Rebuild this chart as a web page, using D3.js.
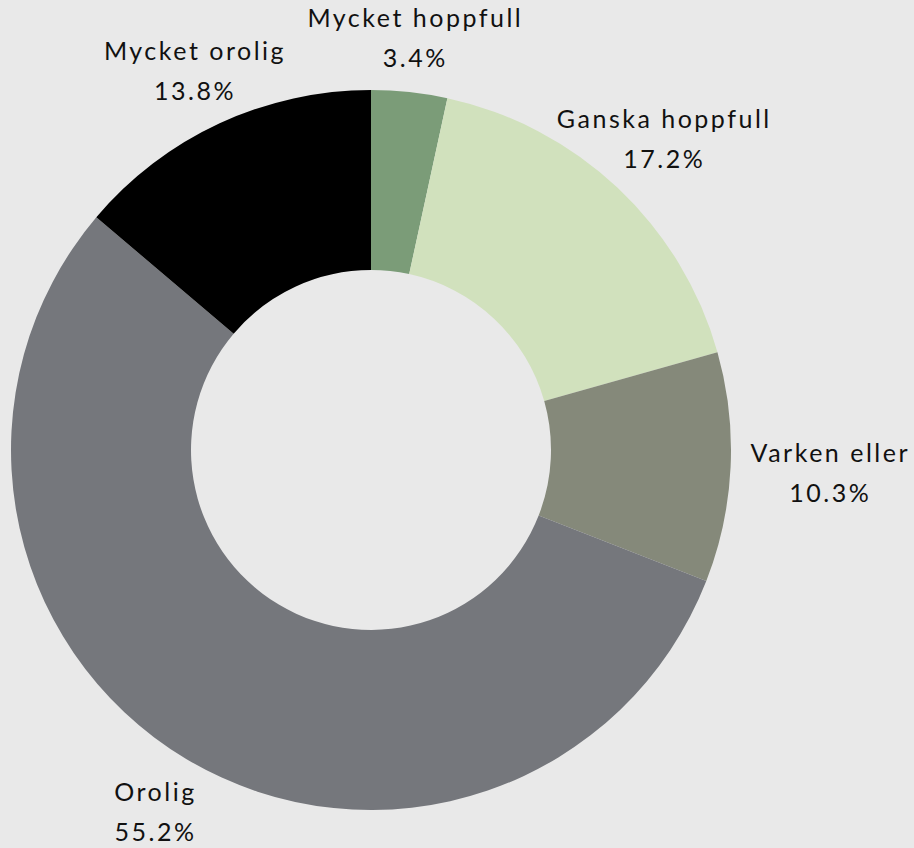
<!DOCTYPE html>
<html>
<head>
<meta charset="utf-8">
<script src="https://cdn.jsdelivr.net/npm/d3@7"></script>
<style>
  body { margin: 0; background: #e9e9e9; }
  svg { display: block; }
  text { font-family: Lato, "Open Sans", sans-serif; fill: #111; letter-spacing: 2.5px; }
</style>
</head>
<body>
<svg id="donut" width="914" height="848"></svg>
<script>
// data
const categories = ["Mycket hoppfull", "Ganska hoppfull", "Varken eller", "Orolig", "Mycket orolig"];
const shares = [3.4, 17.2, 10.3, 55.2, 13.8];
const colors = ["#7b9c78", "#d1e1bd", "#85897a", "#75777c", "#000000"];

const width = 914, height = 848;
const cx = 371, cy = 450;
const outerR = 360, innerR = 180;
const labelGap = 20; // distance from outer edge to nearest label edge

const data = categories.map((c, i) => ({ name: c, value: shares[i], color: colors[i] }));

const svg = d3.select("#donut");
const g = svg.append("g").attr("transform", "translate(" + cx + "," + cy + ")");

const pie = d3.pie().value(d => d.value).sort(null);
const arcs = pie(data);

const arc = d3.arc().innerRadius(innerR).outerRadius(outerR);

g.selectAll("path")
  .data(arcs)
  .enter()
    .append("path")
    .attr("d", arc)
    .attr("fill", d => d.data.color);

// labels: two lines, placed so the box sits just outside the ring
const labels = g.selectAll("g.lbl")
  .data(arcs)
  .enter()
    .append("g")
    .attr("class", "lbl");

labels.append("text")
  .attr("text-anchor", "middle")
  .attr("font-size", 25)
  .attr("y", -5)
  .text(d => d.data.name);

labels.append("text")
  .attr("text-anchor", "middle")
  .attr("font-size", 25)
  .attr("y", 35)
  .text(d => d.data.value.toFixed(1) + "%");

labels.each(function(d) {
  const box = this.getBBox();
  const hw = box.width / 2, hh = box.height / 2;
  const boxCy = box.y + hh; // offset of box centre from group origin
  const a = (d.startAngle + d.endAngle) / 2;
  const s = Math.sin(a), c = -Math.cos(a);
  const edge = Math.min(Math.abs(s) > 1e-6 ? hw / Math.abs(s) : Infinity,
                        Math.abs(c) > 1e-6 ? hh / Math.abs(c) : Infinity);
  const r = outerR + labelGap + edge;
  d3.select(this).attr("transform",
    "translate(" + (r * s) + "," + (r * c - boxCy) + ")");
});
</script>
</body>
</html>
